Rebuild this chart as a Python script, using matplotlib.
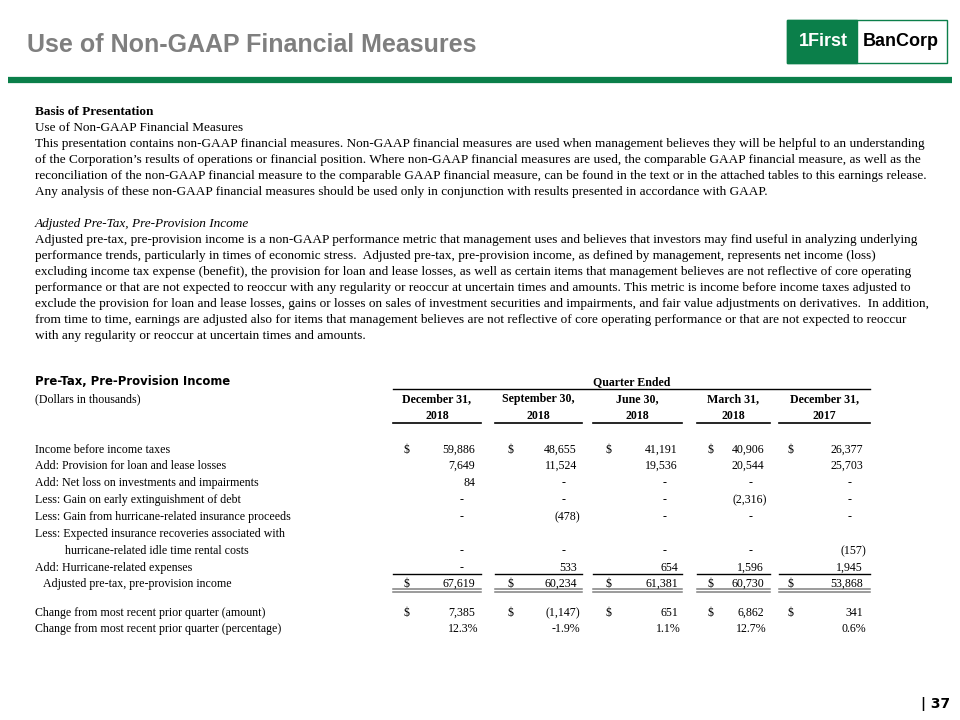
import matplotlib
matplotlib.use('Agg')
import matplotlib.pyplot as plt
from matplotlib.patches import Rectangle

# ---- text content ----
title = 'Use of Non-GAAP Financial Measures'

basis_heading = 'Basis of Presentation'
basis_lines = [
    'Use of Non-GAAP Financial Measures',
    'This presentation contains non-GAAP financial measures. Non-GAAP financial measures are used when management believes they will be helpful to an understanding',
    'of the Corporation\u2019s results of operations or financial position. Where non-GAAP financial measures are used, the comparable GAAP financial measure, as well as the',
    'reconciliation of the non-GAAP financial measure to the comparable GAAP financial measure, can be found in the text or in the attached tables to this earnings release.',
    'Any analysis of these non-GAAP financial measures should be used only in conjunction with results presented in accordance with GAAP.',
]
adjusted_heading = 'Adjusted Pre-Tax, Pre-Provision Income'
adjusted_lines = [
    'Adjusted pre-tax, pre-provision income is a non-GAAP performance metric that management uses and believes that investors may find useful in analyzing underlying',
    'performance trends, particularly in times of economic stress.  Adjusted pre-tax, pre-provision income, as defined by management, represents net income (loss)',
    'excluding income tax expense (benefit), the provision for loan and lease losses, as well as certain items that management believes are not reflective of core operating',
    'performance or that are not expected to reoccur with any regularity or reoccur at uncertain times and amounts. This metric is income before income taxes adjusted to',
    'exclude the provision for loan and lease losses, gains or losses on sales of investment securities and impairments, and fair value adjustments on derivatives.  In addition,',
    'from time to time, earnings are adjusted also for items that management believes are not reflective of core operating performance or that are not expected to reoccur',
    'with any regularity or reoccur at uncertain times and amounts.',
]

# ---- table data ----
quarters = ['December 31,', 'September 30,', 'June 30,', 'March 31,', 'December 31,']
years = ['2018', '2018', '2018', '2018', '2017']

row_labels = [
    'Income before income taxes',
    'Add: Provision for loan and lease losses',
    'Add: Net loss on investments and impairments',
    'Less: Gain on early extinguishment of debt',
    'Less: Gain from hurricane-related insurance proceeds',
    'Less: Expected insurance recoveries associated with',
    'hurricane-related idle time rental costs',
    'Add: Hurricane-related expenses',
    'Adjusted pre-tax, pre-provision income',
    'Change from most recent prior quarter (amount)',
    'Change from most recent prior quarter (percentage)',
]

# None = label-only row, 0 = shown as dash
dec_2018 = [59886, 7649, 84, 0, 0, None, 0, 0, 67619, 7385]
sep_2018 = [48655, 11524, 0, 0, -478, None, 0, 533, 60234, -1147]
jun_2018 = [41191, 19536, 0, 0, 0, None, 0, 654, 61381, 651]
mar_2018 = [40906, 20544, 0, -2316, 0, None, 0, 1596, 60730, 6862]
dec_2017 = [26377, 25703, 0, 0, 0, None, -157, 1945, 53868, 341]
pct_change = [12.3, -1.9, 1.1, 12.7, 0.6]

columns = [dec_2018, sep_2018, jun_2018, mar_2018, dec_2017]
dollar_rows = [0, 8, 9]

# ---- layout (pixels) ----
row_y = [449, 465, 482, 499, 516, 533, 550, 567, 583, 612, 628]
label_x = [35, 35, 35, 35, 35, 35, 65, 35, 43, 35, 35]
col_span = [(393, 481), (495, 582), (593, 682), (697, 770), (779, 870)]
dollar_x = [403, 508, 605, 708, 788]
right_x = [475, 577, 678, 764, 863]

GREEN = '#0b7f4a'
SERIF = 'Liberation Serif'
BODY_SIZE = 9.55
TABLE_SIZE = 8.6


def fmt_amount(v):
    if v == 0:
        return '-'
    if v < 0:
        return f'({-v:,})'
    return f'{v:,}'


def main():
    fig = plt.figure(figsize=(9.6, 7.2), dpi=100)
    ax = fig.add_axes([0, 0, 1, 1])
    ax.set_xlim(0, 960)
    ax.set_ylim(720, 0)
    ax.axis('off')

    # header
    ax.text(27, 52, title, fontsize=18, fontweight='bold', color='#7f7f7f',
            family='Liberation Sans', va='baseline')
    ax.plot([8, 952], [80, 80], color=GREEN, linewidth=4.5, solid_capstyle='butt')

    # logo
    ax.add_patch(Rectangle((787, 20), 160, 43, facecolor='white', edgecolor=GREEN, linewidth=1))
    ax.add_patch(Rectangle((787, 20), 70, 43, facecolor=GREEN, edgecolor=GREEN, linewidth=1))
    ax.text(823, 42, '1First', fontsize=13, fontweight='bold', color='white',
            family='Liberation Sans', ha='center', va='center')
    ax.text(901, 42, 'BanCorp', fontsize=13, fontweight='bold', color='black',
            family='Liberation Sans', ha='center', va='center')

    # paragraphs
    y = 115
    ax.text(35, y, basis_heading, fontsize=BODY_SIZE, fontweight='bold',
            family=SERIF, va='baseline')
    for line in basis_lines:
        y += 16
        ax.text(35, y, line, fontsize=BODY_SIZE, family=SERIF, va='baseline')
    y += 32
    ax.text(35, y, adjusted_heading, fontsize=BODY_SIZE, style='italic',
            family=SERIF, va='baseline')
    for line in adjusted_lines:
        y += 16
        ax.text(35, y, line, fontsize=BODY_SIZE, family=SERIF, va='baseline')

    # table header
    ax.text(35, 385, 'Pre-Tax, Pre-Provision Income', fontsize=8.4, fontweight='bold',
            family='DejaVu Sans', va='baseline')
    ax.text(35, 402, '(Dollars in thousands)', fontsize=TABLE_SIZE, family=SERIF, va='baseline')
    ax.text(632, 385, 'Quarter Ended', fontsize=TABLE_SIZE, fontweight='bold',
            family=SERIF, ha='center', va='baseline')
    ax.plot([393, 870], [389, 389], color='black', linewidth=1)
    for (x0, x1), q, yr in zip(col_span, quarters, years):
        xc = (x0 + x1) / 2
        ax.text(xc, 402, q, fontsize=TABLE_SIZE, fontweight='bold', family=SERIF,
                ha='center', va='baseline')
        ax.text(xc, 419, yr, fontsize=TABLE_SIZE, fontweight='bold', family=SERIF,
                ha='center', va='baseline')
        ax.plot([x0, x1], [423, 423], color='black', linewidth=1.2)
        ax.plot([x0, x1], [574, 574], color='black', linewidth=1)
        ax.plot([x0, x1], [589, 589], color='#808080', linewidth=1.1)
        ax.plot([x0, x1], [591.5, 591.5], color='#808080', linewidth=1.1)

    # table body
    for i, label in enumerate(row_labels):
        ax.text(label_x[i], row_y[i] + 4, label, fontsize=TABLE_SIZE, family=SERIF,
                va='baseline')

    for c, values in enumerate(columns):
        r = right_x[c]
        for i, v in enumerate(values):
            if v is None:
                continue
            yb = row_y[i] + 4
            if i in dollar_rows:
                ax.text(dollar_x[c], yb, '$', fontsize=TABLE_SIZE, family=SERIF, va='baseline')
            if v == 0:
                xr = r - 11
            elif v < 0:
                xr = r + 3
            else:
                xr = r
            ax.text(xr, yb, fmt_amount(v), fontsize=TABLE_SIZE, family=SERIF,
                    ha='right', va='baseline')
        pct = pct_change[c]
        ax.text(r + 3, row_y[-1] + 4, f'{pct:.1f}%', fontsize=TABLE_SIZE, family=SERIF,
                ha='right', va='baseline')

    # page number
    ax.text(950, 708, '| 37', fontsize=10, fontweight='bold', family='DejaVu Sans',
            ha='right', va='baseline')

    fig.savefig('out.png', dpi=100)


if __name__ == '__main__':
    main()
